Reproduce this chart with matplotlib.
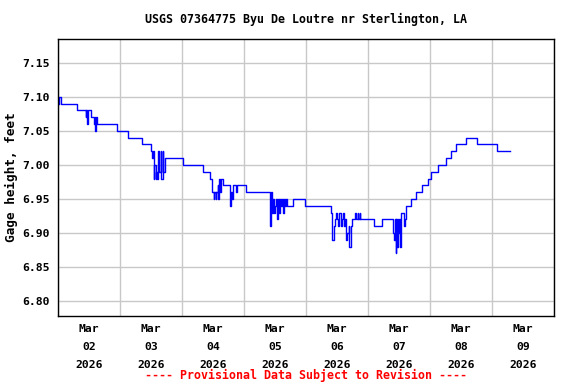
import datetime as dt
import matplotlib
matplotlib.use("Agg")
import matplotlib.pyplot as plt
import matplotlib.dates as mdates
from matplotlib.ticker import FixedLocator, NullFormatter

title = "USGS 07364775 Byu De Loutre nr Sterlington, LA"
ylabel = "Gage height, feet"
footer = "---- Provisional Data Subject to Revision ----"
start = dt.datetime(2026, 3, 2)
end = dt.datetime(2026, 3, 10)
yticks = [6.80, 6.85, 6.90, 6.95, 7.00, 7.05, 7.10, 7.15]

# hours since 2026-03-02 00:00 where the gage height changes, and the new value
hours = [0.25, 0.5, 1.0, 7.5, 10.75, 11.0, 11.25, 11.5, 12.75, 14.0, 14.25, 14.5, 14.75, 15.0,
         22.75, 27.0, 32.5, 36.0, 36.25, 36.75, 37.0, 37.25, 37.75, 38.0, 38.5, 38.75,
         39.25, 39.75, 40.0, 40.5, 40.75, 41.25, 48.5, 56.0, 59.0, 59.5, 59.75, 60.25,
         60.5, 61.0, 61.25, 61.75, 62.0, 62.5, 62.75, 63.25, 63.75, 66.5, 67.0, 67.25,
         67.75, 68.75, 69.25, 72.75, 82.0, 82.5, 82.75, 83.25, 83.5, 84.0, 84.5, 84.75,
         85.25, 85.5, 86.0, 86.25, 86.75, 87.0, 87.5, 87.75, 88.25, 88.75, 91.0, 95.75,
         105.5, 106.0, 106.25, 106.75, 107.25, 107.5, 108.0, 108.5, 108.75, 109.5, 109.75,
         110.25, 110.75, 111.0, 111.5, 112.0, 112.5, 112.75, 113.25, 113.75, 115.0, 115.5,
         116.0, 116.25, 116.75, 117.0, 122.5, 125.5, 129.75, 130.25, 130.5, 130.75, 131.0,
         131.25, 131.5, 131.75, 132.0, 132.25, 132.75, 134.0, 134.5, 134.75, 136.75, 138.75,
         141.0, 143.25, 144.25, 147.25, 150.25, 152.0, 154.25, 158.0, 162.25, 170.0, 175.0]
values = [7.09, 7.10, 7.09, 7.08, 7.07, 7.08, 7.06, 7.08, 7.07, 7.06, 7.07, 7.05, 7.07, 7.06,
          7.05, 7.04, 7.03, 7.02, 7.01, 7.02, 6.98, 7.00, 6.98, 6.99, 6.98, 7.02,
          6.99, 7.02, 6.98, 7.02, 6.99, 7.01, 7.00, 6.99, 6.98, 6.97, 6.96, 6.95,
          6.96, 6.95, 6.96, 6.97, 6.95, 6.98, 6.96, 6.98, 6.97, 6.94, 6.96, 6.95,
          6.97, 6.96, 6.97, 6.96, 6.91, 6.96, 6.93, 6.95, 6.93, 6.94, 6.95, 6.92,
          6.95, 6.93, 6.95, 6.94, 6.95, 6.93, 6.95, 6.94, 6.95, 6.94, 6.95, 6.94,
          6.93, 6.91, 6.89, 6.91, 6.92, 6.93, 6.92, 6.91, 6.93, 6.91, 6.92,
          6.93, 6.91, 6.92, 6.89, 6.90, 6.91, 6.88, 6.91, 6.92, 6.93, 6.92,
          6.93, 6.92, 6.93, 6.92, 6.91, 6.92, 6.90, 6.89, 6.92, 6.87, 6.92,
          6.88, 6.92, 6.90, 6.92, 6.88, 6.93, 6.91, 6.92, 6.94, 6.95, 6.96,
          6.97, 6.98, 6.99, 7.00, 7.01, 7.02, 7.03, 7.04, 7.03, 7.02, 7.02]

times = [start + dt.timedelta(hours=h) for h in hours]

mono = "DejaVu Sans Mono"
fig = plt.figure(figsize=(5.76, 3.84), dpi=100)
ax = fig.add_axes([58 / 576, 1 - 316 / 384, 496 / 576, 277 / 384])

ax.step(times, values, where="post", color="#0000ff", lw=1.0)

ax.set_xlim(start, end)
ax.set_ylim(6.778, 7.185)
ax.set_yticks(yticks)
ax.set_yticklabels([f"{v:.2f}" for v in yticks], fontfamily=mono, fontweight="bold", fontsize=8.2)

days = [start + dt.timedelta(days=i) for i in range(9)]
noons = [start + dt.timedelta(days=i, hours=12) for i in range(8)]
ax.xaxis.set_major_locator(FixedLocator(mdates.date2num(days)))
ax.xaxis.set_major_formatter(NullFormatter())
ax.xaxis.set_minor_locator(FixedLocator(mdates.date2num(noons)))
ax.set_xticklabels([d.strftime("%b\n%d\n%Y") for d in noons], minor=True,
                   fontfamily=mono, fontweight="bold", fontsize=8.2)
for lab in ax.get_xticklabels(minor=True):
    lab.set_linespacing(1.95)

ax.tick_params(axis="both", which="both", length=0)
ax.tick_params(axis="y", pad=6)
ax.tick_params(axis="x", which="minor", pad=6)
ax.grid(True, which="major", color="#c8c8c8", lw=1.0)
ax.set_axisbelow(True)
for s in ax.spines.values():
    s.set_color("black")
    s.set_linewidth(1.0)

ax.set_ylabel(ylabel, fontfamily=mono, fontweight="bold", fontsize=9.2)
ax.yaxis.set_label_coords((18 - 58) / 496, 0.5)
fig.text(0.5 * (58 + 554) / 576, 1 - 19 / 384, title, ha="center", va="center",
         fontfamily=mono, fontweight="bold", fontsize=8.4)
fig.text(0.5 * (58 + 554) / 576, 1 - 375 / 384, footer, ha="center", va="center",
         fontfamily=mono, fontweight="bold", fontsize=8.4, color="red")

fig.savefig("out.png", dpi=100)
